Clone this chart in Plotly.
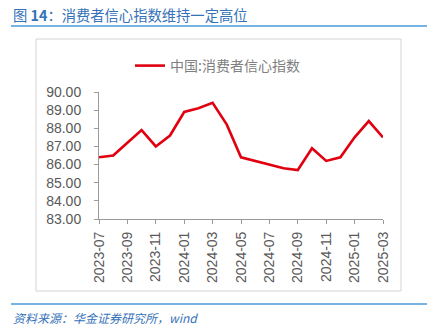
import plotly.graph_objects as go

# Monthly consumer confidence index, China
months = ["2023-07", "2023-08", "2023-09", "2023-10", "2023-11", "2023-12",
          "2024-01", "2024-02", "2024-03", "2024-04", "2024-05", "2024-06",
          "2024-07", "2024-08", "2024-09", "2024-10", "2024-11", "2024-12",
          "2025-01", "2025-02", "2025-03"]
confidence = [86.4, 86.5, 87.2, 87.9, 87.0, 87.6,
              88.9, 89.1, 89.4, 88.2, 86.4, 86.2,
              86.0, 85.8, 85.7, 86.9, 86.2, 86.4,
              87.5, 88.4, 87.5]
tick_labels = months[::2]
y_ticks = [83, 84, 85, 86, 87, 88, 89, 90]

W, H = 436, 335
L, R, T, B = 99, 53, 92, 116
plot_w, plot_h = W - L - R, H - T - B


def px(x):
    return (x - L) / plot_w


def py(y):
    return (H - B - y) / plot_h


fig = go.Figure()
fig.add_trace(go.Scatter(
    x=months, y=confidence, mode="lines", name="中国:消费者信心指数",
    line=dict(color="#e0000f", width=2.6),
))

axis_col = "#9a9a9a"
fig.update_layout(
    width=W, height=H,
    margin=dict(l=L, r=R, t=T, b=B),
    paper_bgcolor="white", plot_bgcolor="white",
    font=dict(family="Liberation Sans, Arial, sans-serif", color="#595959", size=14),
    showlegend=True,
    legend=dict(
        x=px(130), y=py(50), xanchor="left", yanchor="top",
        orientation="h", bgcolor="rgba(0,0,0,0)",
        font=dict(family="Noto Sans CJK SC", size=14, color="#808080"),
    ),
    xaxis=dict(
        type="category", tickmode="array", tickvals=tick_labels, ticktext=tick_labels,
        tickangle=-90, showgrid=False, showline=True, linecolor=axis_col, linewidth=1,
        ticks="outside", ticklen=4, tickcolor=axis_col, range=[0, len(months) - 1],
        tickfont=dict(size=14, color="#595959"), zeroline=False,
        ticklabelstandoff=2,
    ),
    yaxis=dict(
        range=[83, 90], tickvals=y_ticks, ticktext=[f"{v:.2f}" for v in y_ticks],
        showgrid=False, showline=True, linecolor=axis_col, linewidth=1,
        ticks="outside", ticklen=4, tickcolor=axis_col, zeroline=False,
        tickfont=dict(size=14, color="#595959"),
        ticklabelstandoff=10,
    ),
    shapes=[
        # chart frame
        dict(type="rect", xref="paper", yref="paper",
             x0=px(36), x1=px(401), y0=py(291), y1=py(39),
             line=dict(color="#d4d4d4", width=1), layer="below"),
        # header and footer rules
        dict(type="line", xref="paper", yref="paper",
             x0=px(11), x1=px(427), y0=py(26), y1=py(26),
             line=dict(color="#4a9ad6", width=1.5)),
        dict(type="line", xref="paper", yref="paper",
             x0=px(11), x1=px(427), y0=py(304), y1=py(304),
             line=dict(color="#4a9ad6", width=1.5)),
    ],
    annotations=[
        dict(xref="paper", yref="paper", x=px(11), y=py(14), xanchor="left", yanchor="middle",
             showarrow=False,
             text="图 <b>14</b>：消费者信心指数维持一定高位",
             font=dict(family="Noto Sans CJK SC", size=14.3, color="#3572b8")),
        dict(xref="paper", yref="paper", x=px(11), y=py(317), xanchor="left", yanchor="middle",
             showarrow=False,
             text="<i>资料来源：华金证券研究所，wind</i>",
             font=dict(family="Noto Sans CJK SC", size=12, color="#3572b8")),
    ],
)

fig.write_html("out.html")
